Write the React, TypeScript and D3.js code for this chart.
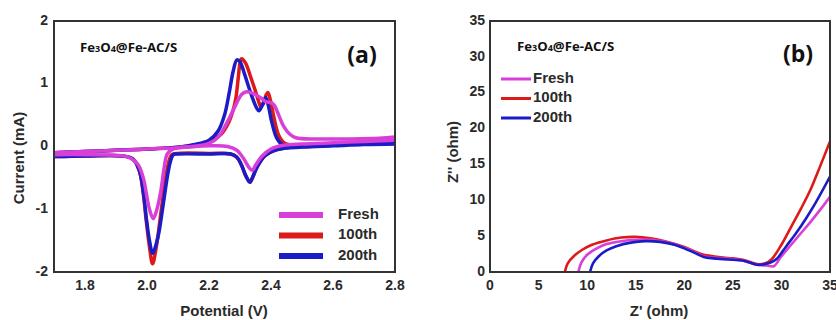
import React from "react";
import * as d3 from "d3";

// ---------- Panel (a): cyclic voltammetry ----------
const cvSeries = ["Fresh", "100th", "200th"];
const cvXTicks = [1.8, 2.0, 2.2, 2.4, 2.6, 2.8];
const cvYTicks = [-2, -1, 0, 1, 2];

const freshAnodic: [number, number][] = [
  [1.7, -0.1], [1.8, -0.08], [1.9, -0.06], [2.0, -0.04], [2.1, -0.02], [2.15, 0.0],
  [2.2, 0.05], [2.23, 0.15], [2.26, 0.4], [2.29, 0.7], [2.305, 0.83], [2.318, 0.87],
  [2.34, 0.85], [2.365, 0.78], [2.385, 0.71], [2.4, 0.7], [2.41, 0.66], [2.425, 0.5],
  [2.44, 0.33], [2.46, 0.2], [2.48, 0.14], [2.55, 0.12], [2.65, 0.12], [2.75, 0.13], [2.8, 0.15],
];
const freshCathodic: [number, number][] = [
  [2.8, 0.1], [2.7, 0.08], [2.6, 0.06], [2.5, 0.04], [2.44, 0.02], [2.4, -0.04],
  [2.37, -0.16], [2.35, -0.3], [2.34, -0.38], [2.33, -0.34], [2.31, -0.18], [2.29, -0.06],
  [2.26, 0.0], [2.2, 0.01], [2.15, 0.0], [2.1, -0.02], [2.08, -0.05], [2.065, -0.12],
  [2.055, -0.35], [2.045, -0.7], [2.032, -1.0], [2.02, -1.15], [2.008, -1.0], [1.998, -0.75],
  [1.988, -0.5], [1.97, -0.28], [1.94, -0.17], [1.9, -0.14], [1.8, -0.13], [1.7, -0.13],
];
const c100Anodic: [number, number][] = [
  [1.7, -0.1], [1.8, -0.08], [1.9, -0.06], [2.0, -0.04], [2.1, -0.01], [2.15, 0.02],
  [2.2, 0.07], [2.24, 0.2], [2.265, 0.4], [2.278, 0.58], [2.287, 0.78], [2.294, 1.08],
  [2.3, 1.33], [2.305, 1.4], [2.318, 1.33], [2.335, 1.1], [2.35, 0.88], [2.36, 0.72],
  [2.367, 0.64], [2.375, 0.68], [2.384, 0.82], [2.39, 0.86], [2.398, 0.74], [2.41, 0.45],
  [2.425, 0.18], [2.445, 0.05], [2.5, 0.02], [2.6, 0.03], [2.7, 0.05], [2.8, 0.07],
];
const c100Cathodic: [number, number][] = [
  [2.8, 0.05], [2.7, 0.04], [2.6, 0.02], [2.5, 0.0], [2.42, -0.05], [2.38, -0.15],
  [2.355, -0.33], [2.34, -0.5], [2.332, -0.57], [2.32, -0.48], [2.305, -0.3], [2.29, -0.17],
  [2.27, -0.12], [2.2, -0.11], [2.1, -0.11], [2.08, -0.13], [2.07, -0.25], [2.06, -0.5],
  [2.045, -1.05], [2.03, -1.6], [2.018, -1.87], [2.008, -1.6], [1.998, -1.2], [1.988, -0.75],
  [1.975, -0.38], [1.955, -0.2], [1.92, -0.15], [1.8, -0.15], [1.7, -0.16],
];
const c200Anodic: [number, number][] = [
  [1.7, -0.1], [1.8, -0.08], [1.9, -0.06], [2.0, -0.04], [2.1, -0.01], [2.15, 0.03],
  [2.2, 0.1], [2.23, 0.25], [2.25, 0.5], [2.265, 0.85], [2.278, 1.2], [2.29, 1.38],
  [2.3, 1.35], [2.315, 1.15], [2.33, 0.92], [2.342, 0.75], [2.353, 0.62], [2.361, 0.57],
  [2.372, 0.66], [2.383, 0.78], [2.391, 0.66], [2.403, 0.38], [2.418, 0.14], [2.437, 0.03],
  [2.5, 0.0], [2.6, 0.02], [2.7, 0.05], [2.8, 0.07],
];
const c200Cathodic: [number, number][] = [
  [2.8, 0.04], [2.7, 0.03], [2.6, 0.01], [2.5, -0.01], [2.42, -0.05], [2.38, -0.15],
  [2.355, -0.33], [2.34, -0.5], [2.332, -0.57], [2.32, -0.48], [2.305, -0.3], [2.29, -0.17],
  [2.27, -0.12], [2.2, -0.12], [2.1, -0.12], [2.085, -0.13], [2.075, -0.25], [2.065, -0.5],
  [2.05, -1.0], [2.035, -1.45], [2.018, -1.7], [2.008, -1.5], [1.998, -1.15], [1.988, -0.72],
  [1.975, -0.38], [1.955, -0.2], [1.92, -0.15], [1.8, -0.15], [1.7, -0.16],
];

// ---------- Panel (b): Nyquist ----------
const eisXTicks = [0, 5, 10, 15, 20, 25, 30, 35];
const eisYTicks = [0, 5, 10, 15, 20, 25, 30, 35];

const eisFresh: [number, number][] = [
  [9.1, 0], [9.4, 1.3], [10, 2.4], [11, 3.3], [12, 3.9], [13.5, 4.3], [15, 4.5], [16.5, 4.5],
  [18, 4.2], [20, 3.4], [21, 2.8], [22, 2.2], [23, 2.0], [24, 1.9], [25, 1.8], [26, 1.6],
  [27, 1.2], [27.5, 1.0], [28.5, 0.9], [29.2, 0.8], [30, 2.2], [31, 3.8], [32, 5.4],
  [33, 7.0], [34, 8.7], [35, 10.5],
];
const eis100: [number, number][] = [
  [7.7, 0], [8.0, 1.2], [8.7, 2.3], [9.5, 3.1], [10.5, 3.8], [12, 4.4], [13.5, 4.8], [15, 4.9],
  [16.5, 4.7], [18, 4.3], [20, 3.5], [21, 2.9], [22, 2.4], [23, 2.2], [24, 2.0], [25, 1.9],
  [26, 1.7], [27, 1.3], [27.5, 1.1], [28.3, 1.2], [29, 1.8], [30, 3.8], [31, 6.3], [32, 8.8],
  [33, 11.5], [34, 14.8], [35, 18.2],
];
const eis200: [number, number][] = [
  [10.3, 0], [10.6, 1.2], [11.2, 2.2], [12, 3.0], [13, 3.6], [14.5, 4.1], [16, 4.3], [17.5, 4.2],
  [19, 3.8], [20, 3.3], [21, 2.7], [22, 2.1], [23, 1.9], [24, 1.8], [25, 1.7], [26, 1.6],
  [27, 1.2], [27.5, 1.0], [28.3, 1.1], [29, 1.4], [29.5, 1.8], [30.5, 3.6], [31.5, 5.4],
  [32.5, 7.4], [33.5, 9.6], [35, 13.3],
];

const COL_FRESH = "#d83fd8";
const COL_100 = "#dd1a1a";
const COL_200 = "#1c1cc6";
const TXT = "#2a2a2a";
const FONT = "'Liberation Sans', Arial, sans-serif";
const FONT2 = "'Open Sans', 'Liberation Sans', sans-serif";

function Sample({ x, y }: { x: number; y: number }) {
  return (
    <text x={x} y={y} fontFamily={FONT2} fontWeight={700} fontSize={13.2} fill="#111" dominantBaseline="middle">
      Fe<tspan fontSize={9} dy={2}>3</tspan>
      <tspan dy={-2}>O</tspan>
      <tspan fontSize={9} dy={2}>4</tspan>
      <tspan dy={-2}>@Fe-AC/S</tspan>
    </text>
  );
}

export default function App() {
  // Panel a
  const ax = d3.scaleLinear().domain([1.7, 2.8]).range([54, 395]);
  const ay = d3.scaleLinear().domain([-2, 2]).range([272, 21]);
  const aLine = d3
    .line<[number, number]>()
    .x((d) => ax(d[0]))
    .y((d) => ay(d[1]))
    .curve(d3.curveCatmullRom.alpha(0.5));

  // Panel b
  const bx = d3.scaleLinear().domain([0, 35]).range([490, 830]);
  const by = d3.scaleLinear().domain([0, 35]).range([272, 21]);
  const bLine = d3
    .line<[number, number]>()
    .x((d) => bx(d[0]))
    .y((d) => by(d[1]))
    .curve(d3.curveCatmullRom.alpha(0.5));

  const cvColors = [COL_FRESH, COL_100, COL_200];
  const cvDraw: { c: string; d: [number, number][] }[] = [
    { c: COL_100, d: c100Anodic },
    { c: COL_100, d: c100Cathodic },
    { c: COL_200, d: c200Anodic },
    { c: COL_200, d: c200Cathodic },
    { c: COL_FRESH, d: freshAnodic },
    { c: COL_FRESH, d: freshCathodic },
  ];
  const eisDraw: { c: string; d: [number, number][] }[] = [
    { c: COL_100, d: eis100 },
    { c: COL_FRESH, d: eisFresh },
    { c: COL_200, d: eis200 },
  ];

  return (
    <svg width={836} height={320} style={{ position: "absolute", left: 0, top: 0, background: "#fff" }}>
      <rect x={0} y={0} width={836} height={320} fill="#fff" />
      <defs>
        <clipPath id="clipA">
          <rect x={54} y={21} width={341} height={251} />
        </clipPath>
        <clipPath id="clipB">
          <rect x={490} y={21} width={340} height={251} />
        </clipPath>
      </defs>
      {/* ---------- Panel a ---------- */}
      <g clipPath="url(#clipA)">
        {cvDraw.map((s, i) => (
          <path key={i} d={aLine(s.d) || ""} fill="none" stroke={s.c} strokeWidth={3.5} strokeLinejoin="round" />
        ))}
      </g>
      <rect x={54} y={21} width={341} height={251} fill="none" stroke="#333" strokeWidth={2} />
      {cvYTicks.map((t) => (
        <text key={"ay" + t} x={48} y={ay(t)} textAnchor="end" dominantBaseline="middle" fontFamily={FONT} fontWeight={700} fontSize={14} fill={TXT}>
          {t}
        </text>
      ))}
      {cvXTicks.map((t) => (
        <text key={"ax" + t} x={ax(t)} y={286} textAnchor="middle" dominantBaseline="middle" fontFamily={FONT} fontWeight={700} fontSize={14} fill={TXT}>
          {t.toFixed(1)}
        </text>
      ))}
      <text x={224} y={312} textAnchor="middle" dominantBaseline="middle" fontFamily={FONT} fontWeight={700} fontSize={15} fill={TXT}>
        Potential (V)
      </text>
      <text transform="translate(20,158) rotate(-90)" textAnchor="middle" dominantBaseline="middle" fontFamily={FONT} fontWeight={700} fontSize={15} fill={TXT}>
        Current (mA)
      </text>
      <Sample x={80} y={48} />
      <text x={362} y={57} textAnchor="middle" dominantBaseline="middle" fontFamily={FONT2} fontWeight={700} fontSize={23} fill="#111">
        (a)
      </text>
      {cvSeries.map((name, i) => (
        <g key={"la" + name}>
          <line x1={279} x2={323} y1={215 + i * 20.5} y2={215 + i * 20.5} stroke={cvColors[i]} strokeWidth={6} />
          <text x={338} y={215 + i * 20.5} dominantBaseline="middle" fontFamily={FONT} fontWeight={700} fontSize={15} fill={TXT}>
            {name}
          </text>
        </g>
      ))}

      {/* ---------- Panel b ---------- */}
      <g clipPath="url(#clipB)">
        {eisDraw.map((s, i) => (
          <path key={i} d={bLine(s.d) || ""} fill="none" stroke={s.c} strokeWidth={2.6} strokeLinejoin="round" />
        ))}
      </g>
      <rect x={490} y={21} width={340} height={251} fill="none" stroke="#333" strokeWidth={2} />
      {eisYTicks.map((t) => (
        <text key={"by" + t} x={485} y={by(t)} textAnchor="end" dominantBaseline="middle" fontFamily={FONT} fontWeight={700} fontSize={14} fill={TXT}>
          {t}
        </text>
      ))}
      {eisXTicks.map((t) => (
        <text key={"bx" + t} x={bx(t)} y={286} textAnchor="middle" dominantBaseline="middle" fontFamily={FONT} fontWeight={700} fontSize={14} fill={TXT}>
          {t}
        </text>
      ))}
      <text x={659} y={312} textAnchor="middle" dominantBaseline="middle" fontFamily={FONT} fontWeight={700} fontSize={15} fill={TXT}>
        Z' (ohm)
      </text>
      <text transform="translate(454,152) rotate(-90)" textAnchor="middle" dominantBaseline="middle" fontFamily={FONT} fontWeight={700} fontSize={15} fill={TXT}>
        Z'' (ohm)
      </text>
      <Sample x={517} y={47} />
      <text x={798} y={56} textAnchor="middle" dominantBaseline="middle" fontFamily={FONT2} fontWeight={700} fontSize={23} fill="#111">
        (b)
      </text>
      {cvSeries.map((name, i) => (
        <g key={"lb" + name}>
          <line x1={501} x2={531} y1={79 + i * 19.5} y2={79 + i * 19.5} stroke={cvColors[i]} strokeWidth={3} />
          <text x={533} y={79 + i * 19.5} dominantBaseline="middle" fontFamily={FONT} fontWeight={700} fontSize={15} fill={TXT}>
            {name}
          </text>
        </g>
      ))}
    </svg>
  );
}
